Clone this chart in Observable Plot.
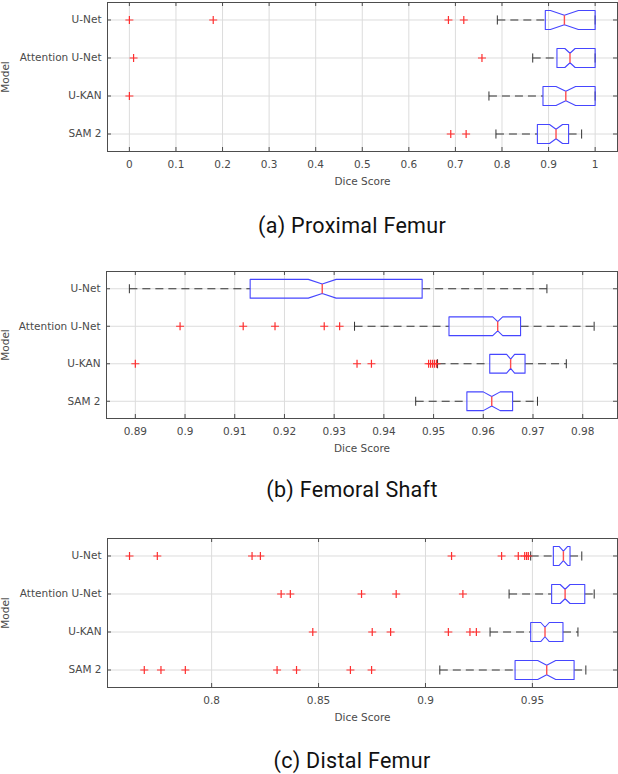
<!DOCTYPE html>
<html><head><meta charset="utf-8">
<script src="https://cdn.jsdelivr.net/npm/d3@7"></script>
<script src="https://cdn.jsdelivr.net/npm/@observablehq/plot@0.6"></script>
<style>
html,body{margin:0;padding:0;background:#fff;}
#wrap{position:relative;width:618px;height:774px;overflow:hidden;background:#fff;}
.panel{position:absolute;left:0;}
.cap{position:absolute;left:202px;width:300px;text-align:center;font-family:Roboto,sans-serif;font-size:21.5px;letter-spacing:0.3px;color:#111;line-height:24px;white-space:nowrap;}
</style></head><body><div id="wrap"></div>
<script>
const models = ["U-Net", "Attention U-Net", "U-KAN", "SAM 2"];

// (a) Proximal Femur
const proxLow = [0.790, 0.866, 0.772, 0.787];
const proxQ1 = [0.893, 0.918, 0.888, 0.876];
const proxMed = [0.934, 0.946, 0.937, 0.916];
const proxQ3 = [1.000, 1.000, 1.000, 0.943];
const proxHigh = [1.000, 1.000, 1.000, 0.971];
const proxNotch = [0.030, 0.011, 0.021, 0.014];
const proxOutliers = [[0, 0.180, 0.685, 0.718], [0.009, 0.757], [0], [0.690, 0.723]];
const proxTicks = [0, 0.1, 0.2, 0.3, 0.4, 0.5, 0.6, 0.7, 0.8, 0.9, 1];
const proxTickLabels = ["0", "0.1", "0.2", "0.3", "0.4", "0.5", "0.6", "0.7", "0.8", "0.9", "1"];

// (b) Femoral Shaft
const shaftLow = [0.8888, 0.9341, 0.9508, 0.9464];
const shaftQ1 = [0.9131, 0.9531, 0.9613, 0.9567];
const shaftMed = [0.9276, 0.9629, 0.9655, 0.9617];
const shaftQ3 = [0.9477, 0.9675, 0.9684, 0.9659];
const shaftHigh = [0.9728, 0.9823, 0.9767, 0.9709];
const shaftNotch = [0.0028, 0.0010, 0.0008, 0.0017];
const shaftOutliers = [[], [0.8990, 0.9117, 0.9181, 0.9280, 0.9311], [0.8900, 0.9346, 0.9375, 0.9490, 0.9494, 0.9498, 0.9502, 0.9506], []];
const shaftTicks = [0.89, 0.90, 0.91, 0.92, 0.93, 0.94, 0.95, 0.96, 0.97, 0.98];
const shaftTickLabels = ["0.89", "0.9", "0.91", "0.92", "0.93", "0.94", "0.95", "0.96", "0.97", "0.98"];

// (c) Distal Femur
const distLow = [0.9492, 0.9391, 0.9302, 0.9067];
const distQ1 = [0.9598, 0.9590, 0.9492, 0.9419];
const distMed = [0.9645, 0.9653, 0.9559, 0.9567];
const distQ3 = [0.9676, 0.9745, 0.9643, 0.9695];
const distHigh = [0.9731, 0.9789, 0.9713, 0.9750];
const distNotch = [0.0020, 0.0023, 0.0020, 0.0042];
const distOutliers = [[0.7616, 0.7746, 0.8189, 0.8228, 0.9122, 0.9356, 0.9434, 0.9464, 0.9473, 0.9481], [0.8325, 0.8368, 0.8701, 0.8863, 0.9175], [0.8473, 0.8751, 0.8837, 0.9107, 0.9208, 0.9238], [0.7685, 0.7763, 0.7877, 0.8306, 0.8397, 0.8649, 0.8748]];
const distTicks = [0.80, 0.85, 0.90, 0.95];
const distTickLabels = ["0.8", "0.85", "0.9", "0.95"];

const captions = ["(a) Proximal Femur", "(b) Femoral Shaft", "(c) Distal Femur"];

const plusSymbol = {
  draw(ctx, size) {
    const r = Math.sqrt(size / Math.PI);
    ctx.moveTo(-r, 0); ctx.lineTo(r, 0);
    ctx.moveTo(0, -r); ctx.lineTo(0, r);
  }
};

function panel(cfg) {
  const {low, q1, med, q3, high, notch, outliers, ticks, tickLabels, domain, height, marginTop, marginBottom, marginLeft} = cfg;
  const H = 0.25, HN = 0.125, CAP = 0.12;
  const rowIdx = models.map((m, i) => i);
  const stats = models.map((m, i) => ({i, m, lo: low[i], q1: q1[i], med: med[i], q3: q3[i], hi: high[i], n: notch[i]}));
  const boxPts = [];
  stats.forEach(s => {
    const pts = [
      [s.q1, s.i - H], [s.med - s.n, s.i - H], [s.med, s.i - HN], [s.med + s.n, s.i - H], [s.q3, s.i - H],
      [s.q3, s.i + H], [s.med + s.n, s.i + H], [s.med, s.i + HN], [s.med - s.n, s.i + H], [s.q1, s.i + H], [s.q1, s.i - H]
    ];
    pts.forEach(([x, y]) => boxPts.push({m: s.m, x, y}));
  });
  const outPts = [];
  outliers.forEach((arr, i) => arr.forEach(v => outPts.push({i, v})));
  const width = 618, marginRight = 1;
  const plotW = width - marginLeft - marginRight;
  const plotH = height - marginTop - marginBottom;
  const tick = 4;
  return Plot.plot({
    width, height, marginTop, marginBottom, marginLeft, marginRight,
    style: {fontFamily: "DejaVu Sans", fontSize: "10.5px", color: "#4a4a4a", background: "transparent"},
    x: {domain},
    y: {domain: [-0.46, 3.46], reverse: true},
    marks: [
      Plot.gridX(ticks, {stroke: "#dcdcdc", strokeOpacity: 1}),
      Plot.gridY(rowIdx, {stroke: "#dcdcdc", strokeOpacity: 1}),
      Plot.link(stats, {x1: "lo", x2: "q1", y1: "i", y2: "i", stroke: "#333", strokeDasharray: "8,5"}),
      Plot.link(stats, {x1: "q3", x2: "hi", y1: "i", y2: "i", stroke: "#333", strokeDasharray: "8,5"}),
      Plot.link(stats, {x1: "lo", x2: "lo", y1: d => d.i - CAP, y2: d => d.i + CAP, stroke: "#333"}),
      Plot.link(stats, {x1: "hi", x2: "hi", y1: d => d.i - CAP, y2: d => d.i + CAP, stroke: "#333"}),
      Plot.line(boxPts, {x: "x", y: "y", z: "m", stroke: "#4646ff", strokeWidth: 1.1, curve: "linear"}),
      Plot.link(stats, {x1: "med", x2: "med", y1: d => d.i - HN, y2: d => d.i + HN, stroke: "#ff4d4d", strokeWidth: 1.4}),
      Plot.dot(outPts, {x: "v", y: "i", symbol: plusSymbol, r: 4, stroke: "#ff2e2e", fill: "none", strokeWidth: 1.2}),
      Plot.frame({stroke: "#4d4d4d"}),
      Plot.tickX(ticks, {x: d => d, insetTop: plotH - tick, stroke: "#4d4d4d"}),
      Plot.tickX(ticks, {x: d => d, insetBottom: plotH - tick, stroke: "#4d4d4d"}),
      Plot.tickY(rowIdx, {y: d => d, insetRight: plotW - tick, stroke: "#4d4d4d"}),
      Plot.tickY(rowIdx, {y: d => d, insetLeft: plotW - tick, stroke: "#4d4d4d"}),
      Plot.axisX(ticks, {tickSize: 0, tickPadding: 9, tickFormat: d => tickLabels[ticks.indexOf(d)], label: "Dice Score", labelAnchor: "center", labelArrow: "none", labelOffset: 33}),
      Plot.axisY(rowIdx, {tickSize: 0, tickPadding: 6, tickFormat: i => models[i], label: "Model", labelAnchor: "center", labelArrow: "none", labelOffset: marginLeft - 1})
    ]
  });
}

const wrap = document.getElementById("wrap");
const configs = [
  {top: 0, low: proxLow, q1: proxQ1, med: proxMed, q3: proxQ3, high: proxHigh, notch: proxNotch, outliers: proxOutliers, ticks: proxTicks, tickLabels: proxTickLabels, domain: [-0.047, 1.048], height: 200, marginTop: 2, marginBottom: 49, marginLeft: 107},
  {top: 269, low: shaftLow, q1: shaftQ1, med: shaftMed, q3: shaftQ3, high: shaftHigh, notch: shaftNotch, outliers: shaftOutliers, ticks: shaftTicks, tickLabels: shaftTickLabels, domain: [0.8842, 0.9870], height: 200, marginTop: 2, marginBottom: 51, marginLeft: 106},
  {top: 536, low: distLow, q1: distQ1, med: distMed, q3: distQ3, high: distHigh, notch: distNotch, outliers: distOutliers, ticks: distTicks, tickLabels: distTickLabels, domain: [0.7513, 0.9898], height: 200, marginTop: 2, marginBottom: 49, marginLeft: 107}
];
const capTops = [214, 478, 749];
configs.forEach((cfg, k) => {
  const d = document.createElement("div");
  d.className = "panel";
  d.style.top = cfg.top + "px";
  d.appendChild(panel(cfg));
  wrap.appendChild(d);
  const c = document.createElement("div");
  c.className = "cap";
  c.style.top = capTops[k] + "px";
  c.textContent = captions[k];
  wrap.appendChild(c);
});
</script></body></html>
